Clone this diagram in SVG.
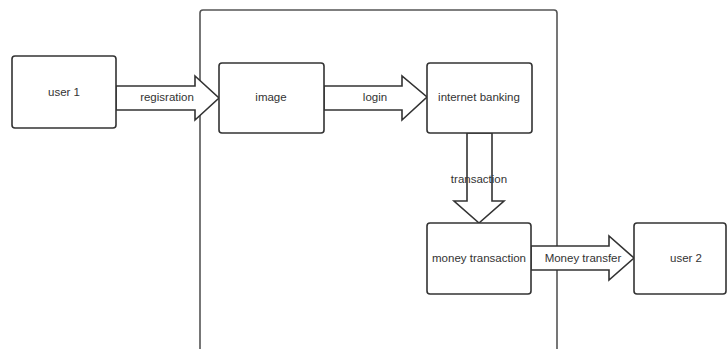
<svg xmlns="http://www.w3.org/2000/svg" width="727" height="349" viewBox="0 0 727 349">
<style>
.box{fill:#fff;stroke:#333;stroke-width:1.6}
.frame{fill:none;stroke:#555;stroke-width:1.6}
.arrow{fill:#fff;stroke:#333;stroke-width:1.6;stroke-linejoin:miter}
.lbl{font-family:"Liberation Sans",Arial,sans-serif;font-size:11.5px;fill:#333;text-anchor:middle;dominant-baseline:central}
</style>
<rect width="727" height="349" fill="#fff"/>
<g id="container">
<rect class="frame" x="200" y="10" width="357" height="360" rx="3"/>
</g>
<g id="connectors">
<g id="e-regisration">
<polygon class="arrow" points="116,86 195,86 195,76 219,98 195,120 195,110 116,110"/>
<text class="lbl" x="167" y="97">regisration</text>
</g>
<g id="e-login">
<polygon class="arrow" points="324,86 402,86 402,76 427,97 402,120 402,110 324,110"/>
<text class="lbl" x="375" y="97">login</text>
</g>
<g id="e-transaction">
<polygon class="arrow" points="467,133 492,133 492,201 504,201 479,223 454,201 467,201"/>
<text class="lbl" x="479" y="179">transaction</text>
</g>
<g id="e-money-transfer">
<polygon class="arrow" points="531,246 609,246 609,236 634,258 609,280 609,270 531,270"/>
<text class="lbl" x="583" y="258">Money transfer</text>
</g>
</g>
<g id="user1">
<rect class="box" x="12" y="56" width="104" height="72" rx="3"/>
<text class="lbl" x="64" y="92">user 1</text>
</g>
<g id="image">
<rect class="box" x="219" y="63" width="105" height="70" rx="3"/>
<text class="lbl" x="271" y="97">image</text>
</g>
<g id="internet-banking">
<rect class="box" x="427" y="63" width="105" height="70" rx="3"/>
<text class="lbl" x="479" y="97">internet banking</text>
</g>
<g id="money-transaction">
<rect class="box" x="427" y="223" width="104" height="71" rx="3"/>
<text class="lbl" x="479" y="258">money transaction</text>
</g>
<g id="user2">
<rect class="box" x="634" y="223" width="92" height="71" rx="3"/>
<text class="lbl" x="686" y="258">user 2</text>
</g>
</svg>
